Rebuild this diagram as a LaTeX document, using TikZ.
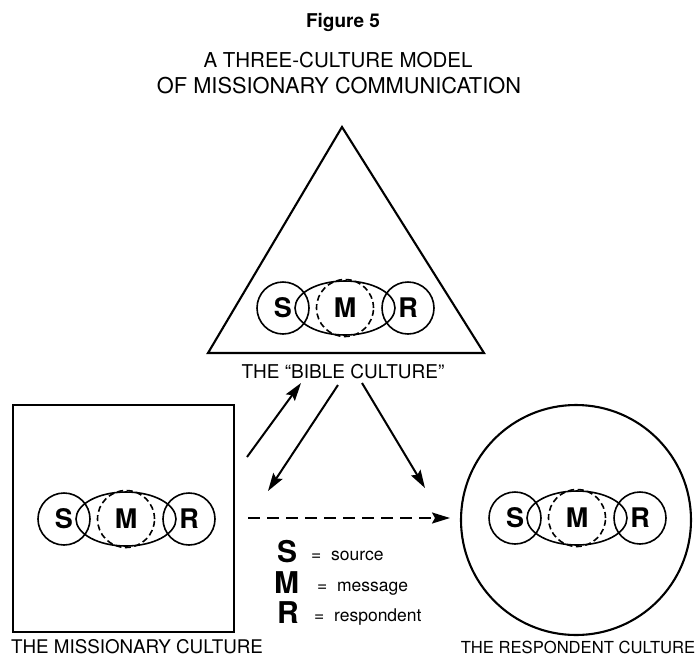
\documentclass[tikz,border=0pt]{standalone}
\usepackage{fontspec}
\setmainfont{TeX Gyre Heros}
\usetikzlibrary{arrows.meta,shapes.geometric}
\tikzset{
  shapeline/.style={line width=2.1pt},
  smrcirc/.style={circle, draw, line width=1.6pt, minimum size=52pt, inner sep=0pt,
    font=\fontsize{27}{27}\selectfont\bfseries},
  mell/.style={ellipse, draw, line width=1.6pt, minimum width=100pt, minimum height=54pt, inner sep=0pt},
  mcirc/.style={circle, draw, line width=1.6pt, dash pattern=on 6pt off 3.5pt, minimum size=57pt, inner sep=0pt,
    font=\fontsize{27}{27}\selectfont\bfseries},
  conn/.style={line width=2pt, -{Stealth[length=18pt,width=11pt,inset=3pt]}},
  lbl/.style={inner sep=0pt},
  legk/.style={font=\fontsize{30}{30}\selectfont\bfseries, inner sep=0pt, anchor=base west},
  legv/.style={font=\fontsize{17.5}{17.5}\selectfont, inner sep=0pt, anchor=base west},
  smr/.pic={
    \node[mell] (-E) at (0,0) {};
    \node[smrcirc] (-S) at (-62,0) {S};
    \node[smrcirc] (-R) at (63,0) {R};
    \node[mcirc] (-M) at (0,0) {M};
  }
}
\begin{document}
\begin{tikzpicture}[x=1pt,y=-1pt]
\useasboundingbox (0,0) rectangle (696,657);

% titles
\node[font=\fontsize{19}{20}\selectfont\bfseries, inner sep=0pt] (fig) at (343,22) {Figure 5};
\node[font=\fontsize{20.5}{25}\selectfont, inner sep=0pt] (title1) at (338,60) {A THREE-CULTURE MODEL};
\node[font=\fontsize{21.8}{25}\selectfont, inner sep=0pt] (title2) at (339,86) {OF MISSIONARY COMMUNICATION};

% Bible culture triangle
\coordinate (tA) at (342,127);
\coordinate (tL) at (208,353);
\coordinate (tR) at (484,353);
\draw[shapeline, line join=miter] (tA) -- (tL) -- (tR) -- cycle;
\pic (tb) at (345,308) {smr};
\node[lbl, font=\fontsize{19}{20}\selectfont] (blab) at (343,372) {THE ``BIBLE CULTURE''};

% Missionary culture square
\node[draw, shapeline, minimum width=221pt, minimum height=227pt, inner sep=0pt] (miss) at (123.5,518.5) {};
\pic (ms) at (126,519) {smr};
\node[lbl, font=\fontsize{18.8}{20}\selectfont] (mlab) at (137,647) {THE MISSIONARY CULTURE};

% Respondent culture circle
\node[draw, shapeline, circle, minimum size=230pt, inner sep=0pt] (resp) at (576,520) {};
\pic (rs) at (577,518) {smr};
\node[lbl, font=\fontsize{16.6}{20}\selectfont] (rlab) at (578,647) {THE RESPONDENT CULTURE};

% arrows
\coordinate (a1s) at (247,457);
\coordinate (a1e) at (301,383);
\coordinate (a2s) at (338,385);
\coordinate (a2e) at (268,491);
\coordinate (a3s) at (362,383);
\coordinate (a3e) at (425,488);
\draw[conn] (a1s) -- (a1e);
\draw[conn] (a2s) -- (a2e);
\draw[conn] (a3s) -- (a3e);
\coordinate (ds) at (248,518);
\coordinate (de) at (450,518);
\draw[conn, dash pattern=on 12pt off 7pt] (ds) -- (de);

% legend
\node[legk] (lS) at (277,562) {S};
\node[legv] (lSv) at (311,560) {=\ \ source};
\node[legk] (lM) at (274,593) {M};
\node[legv] (lMv) at (317,591) {=\ \ message};
\node[legk] (lR) at (277,623) {R};
\node[legv] (lRv) at (314,621) {=\ \ respondent};
\end{tikzpicture}
\end{document}
